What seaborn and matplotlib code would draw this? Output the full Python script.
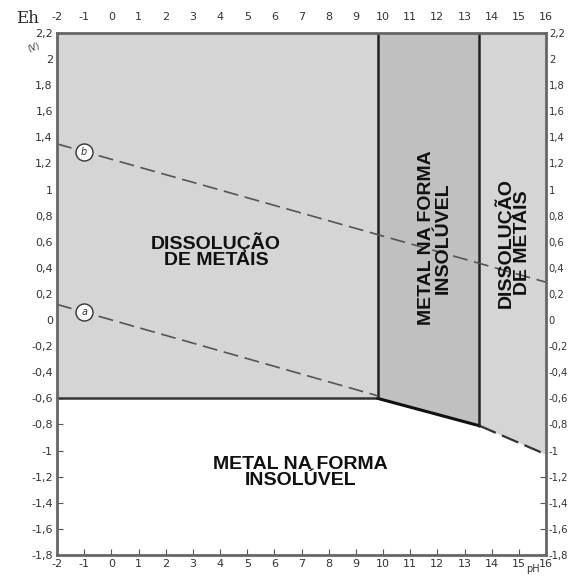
import matplotlib
matplotlib.use('Agg')
import matplotlib.pyplot as plt
import seaborn as sns
import numpy as np
import pandas as pd

# axis ranges and ticks
ph_ticks = list(range(-2, 17))
eh_ticks = [-1.8, -1.6, -1.4, -1.2, -1.0, -0.8, -0.6, -0.4, -0.2, 0.0,
            0.2, 0.4, 0.6, 0.8, 1.0, 1.2, 1.4, 1.6, 1.8, 2.0, 2.2]
eh_labels = ['-1,8', '-1,6', '-1,4', '-1,2', '-1', '-0,8', '-0,6', '-0,4', '-0,2', '0',
             '0,2', '0,4', '0,6', '0,8', '1', '1,2', '1,4', '1,6', '1,8', '2', '2,2']

# lower boundary of the dissolved / insoluble fields
bound_ph = [-2, 9.8, 13.55, 16]
bound_eh = [-0.6, -0.6, -0.81, -1.03]

# vertical boundaries (pH)
vert_ph = [9.8, 13.55]

# water stability lines a and b
line_a_ph = [-2, 9.8]
line_a_eh = [0.12, -0.58]
line_b_ph = [-2, 16]
line_b_eh = [1.35, 0.29]

# circle labels on the lines
mark_ph = [-1, -1]
mark_eh = [0.06, 1.29]
mark_txt = ['a', 'b']

# region labels (pH, Eh, text, rotation)
regions = [
    (3.85, 0.53, 'DISSOLUÇÃO\nDE METAIS', 0),
    (11.9, 0.63, 'METAL NA FORMA\nINSOLÚVEL', 90),
    (14.75, 0.59, 'DISSOLUÇÃO\nDE METAIS', 90),
    (6.95, -1.17, 'METAL NA FORMA\nINSOLÚVEL', 0),
]

sns.set_style('white')
fig = plt.figure(figsize=(5.7, 5.76), dpi=100)
ax = fig.add_axes([0.1, 0.0365, 0.858, 0.9063])

light = '#d5d5d5'
mid = '#c0c0c0'
ph_fill = np.linspace(-2, 16, 400)
eh_fill = np.interp(ph_fill, bound_ph, bound_eh)
ax.fill_between(ph_fill, eh_fill, 2.2, color=light, lw=0)
m = (ph_fill >= vert_ph[0]) & (ph_fill <= vert_ph[1])
ax.fill_between(ph_fill[m], eh_fill[m], 2.2, color=mid, lw=0)

# boundaries
df_h = pd.DataFrame({'pH': bound_ph[:2], 'Eh': bound_eh[:2]})
sns.lineplot(data=df_h, x='pH', y='Eh', ax=ax, color='#333333', lw=1.8)
df_s = pd.DataFrame({'pH': bound_ph[1:3], 'Eh': bound_eh[1:3]})
sns.lineplot(data=df_s, x='pH', y='Eh', ax=ax, color='#111111', lw=2.2)
df_r = pd.DataFrame({'pH': bound_ph[2:], 'Eh': bound_eh[2:]})
sns.lineplot(data=df_r, x='pH', y='Eh', ax=ax, color='#333333', lw=1.6,
             linestyle=(0, (8, 3)))
for i, x in enumerate(vert_ph):
    ax.plot([x, x], [bound_eh[i + 1], 2.2], color='#222222', lw=1.8)

# water lines
sns.lineplot(x=line_a_ph, y=line_a_eh, ax=ax, color='#555555', lw=1.2,
             linestyle=(0, (9, 4)))
sns.lineplot(x=line_b_ph, y=line_b_eh, ax=ax, color='#555555', lw=1.2,
             linestyle=(0, (9, 4)))
ax.scatter(mark_ph, mark_eh, s=150, facecolor='white', edgecolor='#333333',
           lw=1.0, zorder=5)
for x, y, t in zip(mark_ph, mark_eh, mark_txt):
    ax.text(x, y, t, ha='center', va='center', fontsize=7, style='italic',
            color='#333333', zorder=6)

for x, y, t, r in regions:
    ax.text(x, y, t, ha='center', va='center', rotation=r, fontsize=14,
            fontweight='bold', family='Liberation Sans', color='#111111',
            linespacing=0.95)

ax.set_xlim(-2, 16)
ax.set_ylim(-1.8, 2.2)
ax.set_xlabel('')
ax.set_ylabel('')
ax.set_xticks(ph_ticks)
ax.set_xticklabels([str(v) for v in ph_ticks])
ax.set_yticks(eh_ticks)
ax.set_yticklabels(eh_labels)
ax.tick_params(axis='both', direction='in', length=4, width=0.8, color='#555555',
               labelsize=8, labelcolor='#333333', pad=3,
               left=True, right=True, bottom=True, top=True,
               labelleft=True, labelright=False, labelbottom=True, labeltop=False)
top = ax.secondary_xaxis('top')
top.set_xticks(ph_ticks)
top.set_xticklabels([str(v) for v in ph_ticks])
top.tick_params(direction='in', length=0, labelsize=8, labelcolor='#333333', pad=8)
top.spines['top'].set_visible(False)
right = ax.secondary_yaxis('right')
right.set_yticks(eh_ticks)
right.set_yticklabels(eh_labels)
right.tick_params(direction='in', length=0, labelsize=7.2, labelcolor='#333333', pad=2)
right.spines['right'].set_visible(False)

for s in ax.spines.values():
    s.set_color('#666666')
    s.set_linewidth(2)

fig.text(0.028, 0.968, 'Eh', fontsize=12, family='DejaVu Serif', ha='left', va='center')
fig.text(0.06, 0.918, '(V)', fontsize=6, ha='center', va='center', color='#333333',
         rotation=20)
fig.text(0.935, 0.004, 'pH', fontsize=7, ha='center', va='bottom', color='#333333')

fig.savefig('out.png', dpi=100)
